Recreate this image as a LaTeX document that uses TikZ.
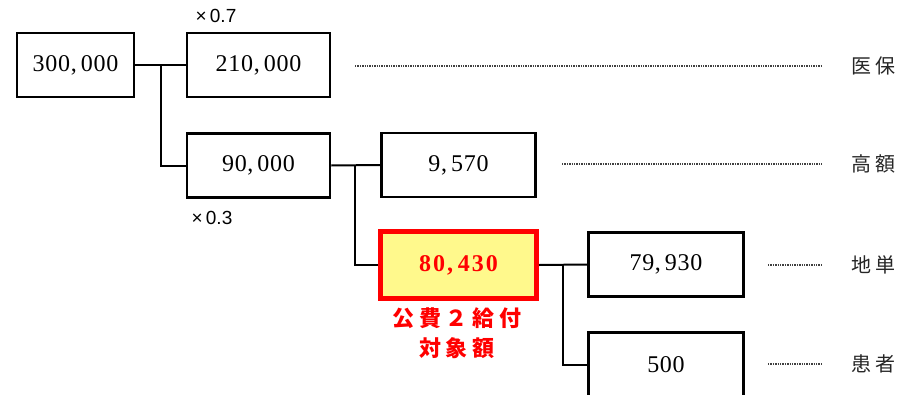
\documentclass[tikz,border=0pt]{standalone}
\usepackage{fontspec}
\setmainfont{Liberation Serif}
\setsansfont{Liberation Sans}
\newfontfamily\jp{Noto Sans CJK JP}
\newfontfamily\numfont[LetterSpace=3]{Liberation Serif}
\newfontfamily\rednumfont[LetterSpace=8]{Liberation Serif}
\begin{document}
\begin{tikzpicture}[x=1pt,y=-1pt,
  box/.style={draw=black,line width=2.5pt,minimum width=#1,minimum height=64pt,inner sep=0pt,
    font=\numfont\fontsize{24}{24}\selectfont},
  box/.default=143pt,
  hibox/.style={draw=red,line width=5pt,fill=yellow!45,minimum width=156pt,minimum height=67pt,inner sep=0pt,
    text=red,font=\rednumfont\fontsize{24}{24}\selectfont\bfseries},
  conn/.style={line width=2pt},
  dotline/.style={line width=1.4pt,densely dotted,black!75},
  rlab/.style={anchor=west,font=\jp\fontsize{20}{20}\selectfont,text=black!85},
  mult/.style={font=\sffamily\fontsize{19}{19}\selectfont},
  redlab/.style={align=center,text=red,font=\jp\bfseries\fontsize{22}{30}\selectfont}]
\useasboundingbox (0,0) rectangle (903,394);
\clip (0,0) rectangle (903,394);
% boxes
\node[box=117pt] (b300) at (75.5,65) {300,\,000};
\node[box=143pt] (b210) at (258.5,65) {210,\,000};
\node[box=143pt] (b90) at (258.5,165.5) {90,\,000};
\node[box=154pt] (b9570) at (458.5,165) {9,\,570};
\node[hibox] (b80430) at (458.5,265) {80,\kern5pt430};
\node[box=155pt] (b79930) at (666,264.5) {79,\,930};
\node[box=155pt] (b500) at (666,364.5) {500};
% multipliers
\node[mult] (m7) at (216,16) {×\,0.7};
\node[mult] (m3) at (212,218) {×\,0.3};
% red label
\node[redlab] (lab) at (457,333) {公\kern4.8pt 費\kern4.8pt ２\kern4.8pt 給\kern4.8pt 付\\対\kern4.8pt 象\kern4.8pt 額};
% connectors
\coordinate (j1) at (161,65);
\coordinate (j2) at (355,165);
\coordinate (j3) at (563,265);
\draw[conn] (b300.east) -- (b210.west);
\draw[conn] (j1) |- (b90.west);
\draw[conn] (b90.east) -- (b9570.west);
\draw[conn] (j2) |- (b80430.west);
\draw[conn] (b80430.east) -- (b79930.west);
\draw[conn] (j3) |- (b500.west);
% right labels
\node[rlab] (l1) at (848,66) {医\kern4pt 保};
\node[rlab] (l2) at (848,164) {高\kern4pt 額};
\node[rlab] (l3) at (848,265) {地\kern4pt 単};
\node[rlab] (l4) at (848,364) {患\kern4pt 者};
\coordinate (d1) at (355,66);
\coordinate (d2) at (562,164);
\coordinate (d3) at (768,265);
\coordinate (d4) at (768,364);
\draw[dotline] (d1) -- ([xshift=-26pt]l1.west);
\draw[dotline] (d2) -- ([xshift=-26pt]l2.west);
\draw[dotline] (d3) -- ([xshift=-26pt]l3.west);
\draw[dotline] (d4) -- ([xshift=-26pt]l4.west);
\end{tikzpicture}
\end{document}
